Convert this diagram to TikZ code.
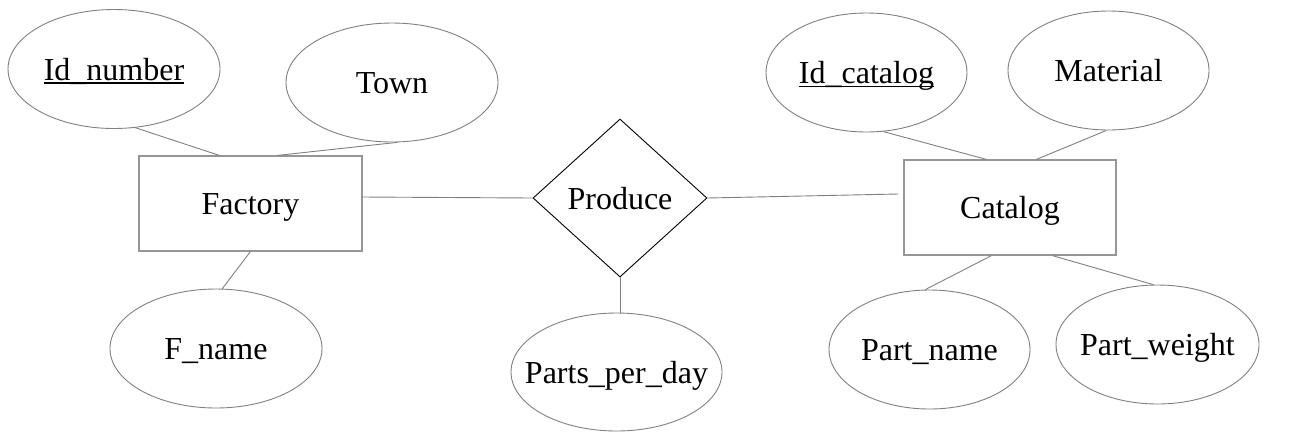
\documentclass[tikz,border=0pt]{standalone}
\usepackage{fontspec}
\setmainfont{Liberation Serif}
\usetikzlibrary{shapes.geometric,calc}
\definecolor{edgegray}{RGB}{128,128,128}
\definecolor{boxgray}{RGB}{150,150,150}
\newcommand\keyul[1]{\setbox0\hbox{#1}\rlap{\rule[-3.5pt]{\wd0}{1.4pt}}\box0}
\newcommand\zw[1]{\makebox[0pt]{#1}}
\begin{document}
\begin{tikzpicture}[x=1pt,y=-1pt,
  every node/.style={font=\fontsize{32}{36}\selectfont, inner sep=0pt, text height=22pt, text depth=0pt},
  attr/.style={ellipse, draw=edgegray, line width=0.9pt, minimum width=212pt, minimum height=119pt},
  attrs/.style={ellipse, draw=edgegray, line width=0.9pt, minimum width=201pt, minimum height=119pt},
  entity/.style={rectangle, draw=boxgray, line width=1.2pt, minimum height=95pt},
  rel/.style={diamond, draw=black, line width=0.9pt, minimum width=174pt, minimum height=158pt},
  link/.style={draw=edgegray, line width=0.9pt}]
\useasboundingbox (0,0) rectangle (1290,432);
% Factory side
\node[attr] (idn) at (114,69) {\zw{\keyul{Id\_number}}};
\node[attr] (town) at (392,82.5) {\zw{Town}};
\node[entity, minimum width=223pt] (fac) at (250.5,203.5) {Factory};
\node[attr] (fname) at (216,348.5) {\zw{F\_name}};
% Relationship
\node[rel] (pr) at (620,198) {\zw{Produce}};
\node[attr, minimum width=211pt, minimum height=118pt] (ppd) at (616.5,372) {\zw{Parts\_per\_day}};
% Catalog side
\node[attrs] (idc) at (866.5,72.5) {\zw{\keyul{Id\_catalog}}};
\node[attrs] (mat) at (1108.5,70.5) {\zw{Material}};
\node[entity, minimum width=212pt] (cat) at (1010,207.5) {Catalog};
\node[attrs] (pname) at (929.5,349.5) {\zw{Part\_name}};
\node[attrs, minimum width=203pt] (pw) at (1157.5,344.5) {\zw{Part\_weight}};
% connectors
\draw[link] (idn.-70) -- ($(fac.north west)+(81,0)$);
\draw[link] (town.-85) -- ($(fac.north west)+(139,0)$);
\draw[link] ($(fac.south west)+(112,0)$) -- (fname.84);
\draw[link] ($(fac.east)+(0,-6.5)$) -- (pr.west);
\draw[link] (pr.east) -- ($(cat.west)+(-5,-13.5)$);
\draw[link] (pr.south) -- (pr.south |- ppd.north);
\draw[link] (idc.-74) -- ($(cat.north west)+(83,0)$);
\draw[link] (mat.-92) -- ($(cat.north west)+(133,0)$);
\draw[link] ($(cat.south west)+(88,0)$) -- (pname.94);
\draw[link] ($(cat.south west)+(149,0)$) -- (pw.94);
\end{tikzpicture}
\end{document}
